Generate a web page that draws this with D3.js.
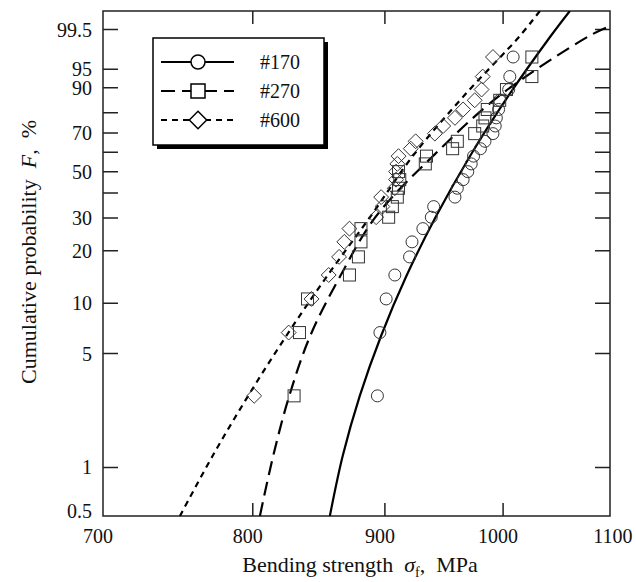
<!DOCTYPE html>
<html>
<head>
<meta charset="utf-8">
<script src="https://cdnjs.cloudflare.com/ajax/libs/d3/7.8.5/d3.min.js"></script>
<style>
    body { margin: 0; background: #fff; }
    text { font-family: "Liberation Serif", "Times New Roman", serif; fill: #111; white-space: pre; }
</style>
</head>
<body>
<svg id="chart"></svg>
<script>
// cumulative probability (%) of every specimen, median ranks, 25 per grade
const probs = [2.76, 6.69, 10.6, 14.6, 18.5, 22.4, 26.4, 30.3, 34.3, 38.2, 42.1, 46.1, 50.0,
               53.9, 57.9, 61.8, 65.7, 69.7, 73.6, 77.6, 81.5, 85.4, 89.4, 93.3, 97.2];

// bending strength (MPa) in rank order
const s170 = [894, 896, 901, 908, 920, 922, 931, 938, 940, 958, 960, 965, 969,
              972, 974, 980, 984, 991, 993, 994, 996, 997, 1005, 1006, 1009];
const s270 = [830, 834, 840, 872, 879, 881, 881, 903, 906, 910, 911, 912, 911,
              933, 934, 956, 960, 975, 982, 984, 986, 997, 1003, 1026, 1026];
const s600 = [801, 826, 843, 856, 864, 868, 872, 893, 898, 897, 908, 909, 909,
              910, 911, 921, 925, 941, 948, 958, 965, 975, 981, 982, 991];

// fitted distribution lines, [strength, F%]
const fit170 = [[856.9, 0.5], [866.8, 1.18], [880.0, 2.75], [896.9, 6.38], [917.4, 14.4],
                [942.1, 30.7], [971.0, 58.0], [1004.7, 87.1], [1043.4, 99.2], [1061.3, 99.9]];
const fit270 = [[805.1, 0.5], [814.7, 1.18], [826.4, 2.75], [842.0, 6.38], [864.9, 14.4],
                [893.0, 30.7], [939.5, 58.0], [996.5, 87.1], [1079.7, 99.2], [1100, 99.62]];
const fit600 = [[749.7, 0.5], [771.9, 1.18], [796.6, 2.75], [824.2, 6.38], [854.8, 14.4],
                [888.7, 30.7], [922.7, 58.0], [965.6, 87.1], [1015.0, 99.2], [1033.3, 99.9]];

const xTicks = [700, 800, 900, 1000, 1100];
const yTickMarks = [1, 5, 10, 20, 30, 40, 50, 60, 70, 80, 90, 95, 99.5];
const yLabels = [0.5, 1, 5, 10, 20, 30, 50, 70, 90, 95, 99.5];
const names = ["#170", "#270", "#600"];

const width = 636, height = 582;
const pLeft = 103, pRight = 610, pTop = 11, pBottom = 516;

const svg = d3.select("#chart").attr("width", width).attr("height", height);

const weib = p => Math.log(-Math.log(1 - p / 100));
const x = d3.scaleLog().domain([700, 1100]).range([pLeft, pRight]);
const y = d3.scaleLinear().domain([weib(0.5), weib(99.9)]).range([pBottom, pTop]);

svg.append("clipPath").attr("id", "clip")
    .append("rect").attr("x", pLeft).attr("y", pTop)
    .attr("width", pRight - pLeft).attr("height", pBottom - pTop);

// frame
svg.append("rect")
    .attr("x", pLeft).attr("y", pTop)
    .attr("width", pRight - pLeft).attr("height", pBottom - pTop)
    .attr("fill", "none").attr("stroke", "#222").attr("stroke-width", 1.5);

const tickLen = 13;
const inner = xTicks.slice(1, -1);
svg.append("g").selectAll("path")
    .data(inner)
    .enter().append("path")
    .attr("d", d => `M${x(d)},${pBottom}V${pBottom - tickLen}M${x(d)},${pTop}V${pTop + tickLen}`)
    .attr("stroke", "#222").attr("stroke-width", 1.5);

svg.append("g").selectAll("path")
    .data(yTickMarks)
    .enter().append("path")
    .attr("d", d => `M${pLeft},${y(weib(d))}H${pLeft + 15}M${pRight},${y(weib(d))}H${pRight - 15}`)
    .attr("stroke", "#222").attr("stroke-width", 1.5);

svg.append("g").selectAll("text")
    .data(xTicks)
    .enter().append("text")
    .attr("x", d => x(d) + (d === 1100 ? 3 : -5)).attr("y", 543)
    .attr("text-anchor", "middle")
    .style("font-size", "20px")
    .text(d => d);

svg.append("g").selectAll("text")
    .data(yLabels)
    .enter().append("text")
    .attr("x", 92)
    .attr("y", d => d === 0.5 ? pBottom + 2 : y(weib(d)) + 7)
    .attr("text-anchor", "end")
    .style("font-size", "20px")
    .text(d => d);

// axis titles
const xt = svg.append("text")
    .attr("x", 360).attr("y", 572)
    .attr("text-anchor", "middle")
    .style("font-size", "22px");
xt.append("tspan").text("Bending strength  ");
xt.append("tspan").style("font-style", "italic").text("σ");
xt.append("tspan").attr("dy", 5).style("font-size", "14px").text("f");
xt.append("tspan").attr("dy", -5).text(",  MPa");

const yt = svg.append("text")
    .attr("transform", "translate(36,252) rotate(-90)")
    .attr("text-anchor", "middle")
    .style("font-size", "22px");
yt.append("tspan").text("Cumulative probability  ");
yt.append("tspan").style("font-style", "italic").text("F");
yt.append("tspan").text(",  %");

// fitted lines
const line = d3.line()
    .x(d => x(d[0]))
    .y(d => y(weib(d[1])))
    .curve(d3.curveCatmullRom);

const plot = svg.append("g").attr("clip-path", "url(#clip)");
const styles = [
    {fit: fit170, dash: null},
    {fit: fit270, dash: "14,7"},
    {fit: fit600, dash: "6,5"}
];
styles.forEach(s => {
    plot.append("path")
        .datum(s.fit)
        .attr("d", line)
        .attr("fill", "none")
        .attr("stroke", "#000")
        .attr("stroke-width", 2.2)
        .attr("stroke-dasharray", s.dash);
});

// markers
const marker = (g, kind, cx, cy, size) => {
    if (kind === 0) {
        g.append("circle").attr("cx", cx).attr("cy", cy).attr("r", size / 2);
    } else if (kind === 1) {
        g.append("rect").attr("x", cx - size / 2).attr("y", cy - size / 2)
            .attr("width", size).attr("height", size);
    } else {
        const h = size * 0.62;
        g.append("path").attr("d", `M${cx},${cy - h}L${cx + h},${cy}L${cx},${cy + h}L${cx - h},${cy}Z`);
    }
};

const pts = svg.append("g")
    .attr("fill", "none").attr("stroke", "#333").attr("stroke-width", 1);
[s170, s270, s600].forEach((series, k) => {
    series.forEach((v, i) => marker(pts, k, x(v), y(weib(probs[i])), 12));
});

// legend
const lg = svg.append("g");
lg.append("rect").attr("x", 157).attr("y", 42).attr("width", 171).attr("height", 107).attr("fill", "#000");
lg.append("rect").attr("x", 153).attr("y", 38).attr("width", 171).attr("height", 107)
    .attr("fill", "#fff").attr("stroke", "#000").attr("stroke-width", 1.5);
const rowsY = [62, 91, 120];
const dashes = [null, "14,7", "6,5"];
names.forEach((n, k) => {
    lg.append("line")
        .attr("x1", 161).attr("x2", 234)
        .attr("y1", rowsY[k]).attr("y2", rowsY[k])
        .attr("stroke", "#000").attr("stroke-width", 1.8)
        .attr("stroke-dasharray", dashes[k]);
    const mg = lg.append("g").attr("fill", "#fff").attr("stroke", "#000").attr("stroke-width", 1.5);
    marker(mg, k, 198, rowsY[k], 14);
    lg.append("text")
        .attr("x", 260).attr("y", rowsY[k] + 7)
        .style("font-size", "20px")
        .text(n);
});
</script>
</body>
</html>
